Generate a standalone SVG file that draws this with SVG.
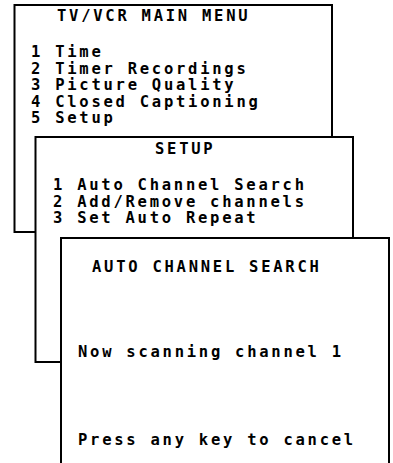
<svg xmlns="http://www.w3.org/2000/svg" width="393" height="463" viewBox="0 0 393 463">
<style>
.box{fill:#fff;stroke:#000;stroke-width:2}
text{font-family:"DejaVu Sans Mono","Liberation Mono",monospace;font-weight:bold;font-size:15.5px;letter-spacing:2.75px;fill:#000}
</style>
<rect width="393" height="463" fill="#fff"/>
<g id="main-menu">
<rect class="box" x="14.5" y="5" width="317.5" height="227"/>
<text x="57" y="21">TV/VCR MAIN MENU</text>
<text x="31" y="57">1 Time</text>
<text x="31" y="73.5">2 Timer Recordings</text>
<text x="31" y="90">3 Picture Quality</text>
<text x="31" y="106.5">4 Closed Captioning</text>
<text x="31" y="123">5 Setup</text>
</g>
<g id="setup">
<rect class="box" x="35.5" y="137" width="317.5" height="225"/>
<text x="155" y="154">SETUP</text>
<text x="53" y="190">1 Auto Channel Search</text>
<text x="53" y="206.5">2 Add/Remove channels</text>
<text x="53" y="223">3 Set Auto Repeat</text>
</g>
<g id="auto-channel-search">
<rect class="box" x="61" y="238" width="328" height="240"/>
<text x="92" y="272">AUTO CHANNEL SEARCH</text>
<text x="78" y="357">Now scanning channel 1</text>
<text x="78" y="445">Press any key to cancel</text>
</g>
<g id="connectors"></g>
</svg>
